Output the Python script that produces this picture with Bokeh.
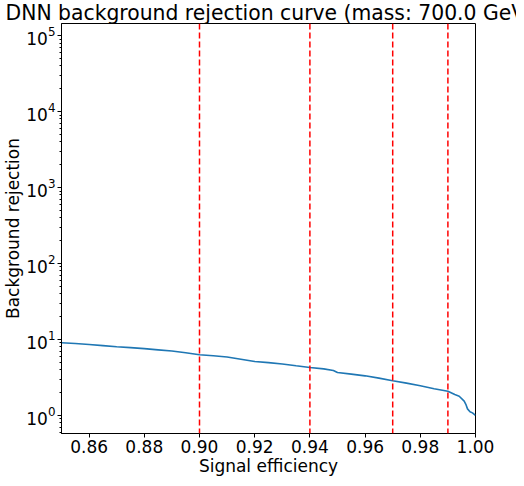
from bokeh.plotting import figure
from bokeh.models import Range1d, Span, FixedTicker, CustomJSTickFormatter, LogTicker
from bokeh.embed import file_html
from bokeh.resources import INLINE

# Data
sig_eff = [0.850, 0.855, 0.860, 0.865, 0.870, 0.875, 0.880, 0.885, 0.890, 0.895,
           0.900, 0.905, 0.910, 0.915, 0.920, 0.925, 0.930, 0.935, 0.940, 0.945,
           0.9485, 0.950, 0.955, 0.960, 0.965, 0.970, 0.975, 0.980, 0.985, 0.990,
           0.9925, 0.9941, 0.9959, 0.9965, 0.9971, 0.9980, 0.9989, 1.000]
bkg_rej = [9.06, 8.85, 8.60, 8.30, 8.00, 7.80, 7.57, 7.30, 7.04, 6.70,
           6.30, 6.10, 5.88, 5.50, 5.12, 4.95, 4.76, 4.50, 4.27, 4.10,
           3.91, 3.68, 3.50, 3.32, 3.10, 2.86, 2.66, 2.46, 2.25, 2.08,
           1.88, 1.79, 1.54, 1.40, 1.22, 1.12, 1.08, 1.00]
wp_effs = [0.90, 0.94, 0.97, 0.99]
x_ticks = [0.86, 0.88, 0.90, 0.92, 0.94, 0.96, 0.98, 1.00]
title_text = "DNN background rejection curve (mass: 700.0 GeV)"

FONT = "DejaVu Sans"

p = figure(width=516, height=478, output_backend="svg", toolbar_location=None,
           y_axis_type="log",
           x_range=Range1d(0.85, 1.00), y_range=Range1d(0.578, 1.445e5),
           min_border_left=58, min_border_right=41, min_border_top=0, min_border_bottom=5)

p.title.text = title_text
p.title.text_font = FONT
p.title.text_font_size = "20.35px"
p.title.text_font_style = "normal"
p.title.text_color = "black"
p.title.align = "left"
p.title.offset = -56
p.title.standoff = -3

p.line(sig_eff, bkg_rej, line_color="#1f77b4", line_width=1.6)

for wp in wp_effs:
    p.add_layout(Span(location=wp, dimension="height", line_color="red",
                      line_dash="6 3", line_width=1.5))

p.grid.visible = False
p.outline_line_color = "black"
p.outline_line_width = 1
p.background_fill_color = "white"
p.border_fill_color = "white"

p.xaxis.ticker = FixedTicker(ticks=x_ticks)
p.xaxis.formatter = CustomJSTickFormatter(code="return tick.toFixed(2);")
p.xaxis.minor_tick_line_color = None
p.xaxis.axis_label = "Signal efficiency"
p.yaxis.axis_label = "Background rejection"
p.yaxis.ticker = LogTicker(num_minor_ticks=10)

for ax in (p.xaxis[0], p.yaxis[0]):
    ax.axis_label_text_font = FONT
    ax.axis_label_text_font_size = "17px"
    ax.axis_label_text_font_style = "normal"
    ax.axis_label_text_color = "black"
    ax.major_label_text_font = FONT
    ax.major_label_text_font_size = "17px"
    ax.major_label_text_color = "black"
    ax.axis_line_color = "black"
    ax.major_tick_line_color = "black"
    ax.major_tick_out = 4
    ax.major_tick_in = 0
    ax.minor_tick_out = 2
    ax.minor_tick_in = 0
    ax.major_label_standoff = 2
    ax.axis_label_standoff = 0

open("out.html", "w").write(file_html(p, INLINE))
